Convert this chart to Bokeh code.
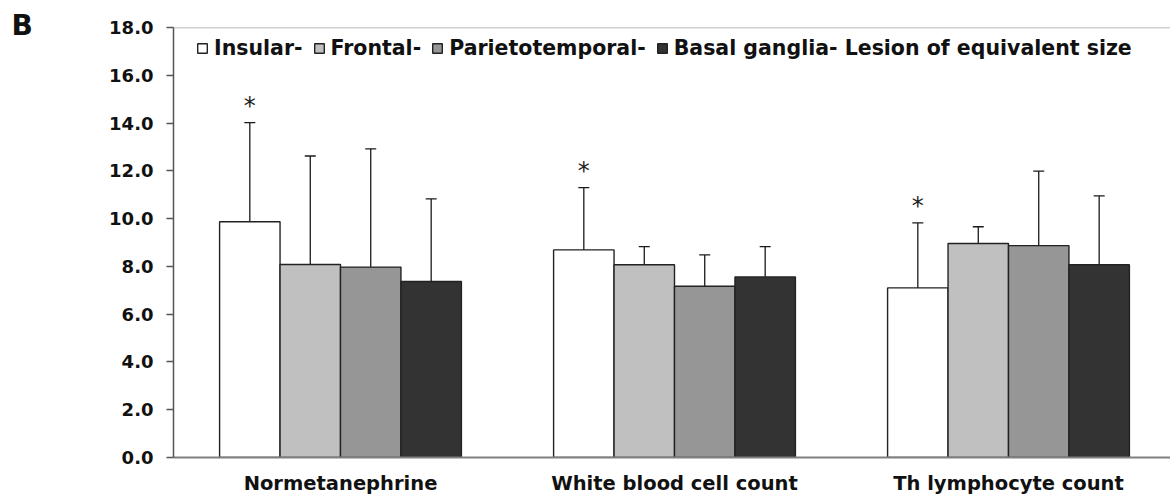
from bokeh.plotting import figure
from bokeh.models import (ColumnDataSource, Range1d, FixedTicker, Whisker, TeeHead,
                          Legend, LegendItem, Label, Span, CustomJSTickFormatter)
from bokeh.transform import dodge
from bokeh.core.properties import value
from bokeh.embed import file_html
from bokeh.resources import INLINE

# ---- data ----
categories = ["Normetanephrine", "White blood cell count", "Th lymphocyte count"]
series_names = ["Insular-", "Frontal-", "Parietotemporal-", "Basal ganglia- Lesion of equivalent size"]
insular = [9.87, 8.69, 7.10]
insular_hi = [14.02, 11.30, 9.82]
insular_lo = [6.84, 6.06, 4.88]
frontal = [8.08, 8.07, 8.96]
frontal_hi = [12.62, 8.83, 9.66]
frontal_lo = [5.00, 6.39, 8.02]
parietotemporal = [7.97, 7.17, 8.87]
parietotemporal_hi = [12.92, 8.48, 11.99]
parietotemporal_lo = [5.86, 6.39, 6.04]
basal = [7.37, 7.56, 8.07]
basal_hi = [10.83, 8.83, 10.95]
basal_lo = [4.90, 6.36, 6.04]
significant = [True, True, True]   # asterisk over Insular bar
y_ticks = [0, 2, 4, 6, 8, 10, 12, 14, 16, 18]

colors = ["#ffffff", "#c0c0c0", "#969696", "#333333"]
FONT = "DejaVu Sans"

xs = list(range(1, len(categories) + 1))
bw = 0.181
offsets = [-1.5 * bw, -0.5 * bw, 0.5 * bw, 1.5 * bw]

p = figure(width=1170, height=501, output_backend="svg", toolbar_location=None,
           x_range=Range1d(0.5, 0.5 + 997 / 334), y_range=Range1d(0, 18),
           min_border_left=173, min_border_right=0, min_border_top=27, min_border_bottom=44)
p.outline_line_color = None
p.grid.visible = False
p.background_fill_color = "white"

series = [(insular, insular_hi, insular_lo), (frontal, frontal_hi, frontal_lo),
          (parietotemporal, parietotemporal_hi, parietotemporal_lo), (basal, basal_hi, basal_lo)]

items = []
for i, (vals, hi, lo) in enumerate(series):
    src = ColumnDataSource(dict(x=xs, top=vals, hi=hi, lo=lo))
    r = p.vbar(x=dodge("x", offsets[i], range=p.x_range), top="top", width=bw, source=src,
               fill_color=colors[i], line_color="#222222", line_width=1.4)
    items.append(LegendItem(label=series_names[i], renderers=[r]))
    w = Whisker(base=dodge("x", offsets[i], range=p.x_range), upper="hi", lower="lo", source=src,
                line_color="#1a1a1a", line_width=1.3,
                upper_head=TeeHead(size=11, line_color="#1a1a1a", line_width=1.3),
                lower_head=TeeHead(size=11, line_color="#1a1a1a", line_width=1.3))
    p.add_layout(w)

# asterisks
ax = [x for x, s in zip(xs, significant) if s]
ay = [h + 0.70 for h, s in zip(insular_hi, significant) if s]
asrc = ColumnDataSource(dict(x=ax, y=ay, t=["*"] * len(ax)))
p.text(x=dodge("x", offsets[0], range=p.x_range), y="y", text="t", source=asrc,
       text_font=value(FONT), text_font_size="24px", text_align="center",
       text_baseline="alphabetic", text_color="#222222")

# top frame line
p.add_layout(Span(location=18, dimension="width", line_color="#a0a0a0", line_width=1.5))

# y axis
p.yaxis.ticker = FixedTicker(ticks=y_ticks)
p.yaxis.formatter = CustomJSTickFormatter(code="return tick.toFixed(1);")
p.yaxis.major_label_text_font = FONT
p.yaxis.major_label_text_font_style = "bold"
p.yaxis.major_label_text_font_size = "18px"
p.yaxis.major_label_text_color = "#111111"
p.yaxis.major_tick_in = 0
p.yaxis.major_tick_out = 7
p.yaxis.minor_tick_line_color = None
p.yaxis.axis_line_color = "#555555"
p.yaxis.axis_line_width = 1.5
p.yaxis.major_tick_line_color = "#555555"
p.yaxis.major_tick_line_width = 1.5
p.yaxis.major_label_standoff = 13

# x axis
p.xaxis.ticker = FixedTicker(ticks=xs)
p.xaxis.major_label_overrides = {x: c for x, c in zip(xs, categories)}
p.xaxis.major_label_text_font = FONT
p.xaxis.major_label_text_font_style = "bold"
p.xaxis.major_label_text_font_size = "19.5px"
p.xaxis.major_label_text_color = "#111111"
p.xaxis.major_tick_line_color = None
p.xaxis.minor_tick_line_color = None
p.xaxis.axis_line_color = "#808080"
p.xaxis.axis_line_width = 2
p.xaxis.major_label_standoff = 8

legend = Legend(items=items, orientation="horizontal", location=(23, 397.5),
                glyph_width=12, glyph_height=12, label_standoff=6, spacing=10,
                padding=0, margin=0, label_height=24,
                label_text_font=FONT, label_text_font_style="bold",
                label_text_font_size="20.5px", label_text_color="#111111",
                border_line_color=None, background_fill_alpha=0)
p.add_layout(legend)

# panel letter, placed in the left side panel so it is not clipped to the frame
p.add_layout(Label(x=11, y=41, x_units="canvas", y_units="canvas", text="B",
                   text_baseline="bottom",
                   text_font=FONT, text_font_style="bold", text_font_size="28px",
                   text_color="#111111"), "left")

open("out.html", "w").write(file_html(p, INLINE))
